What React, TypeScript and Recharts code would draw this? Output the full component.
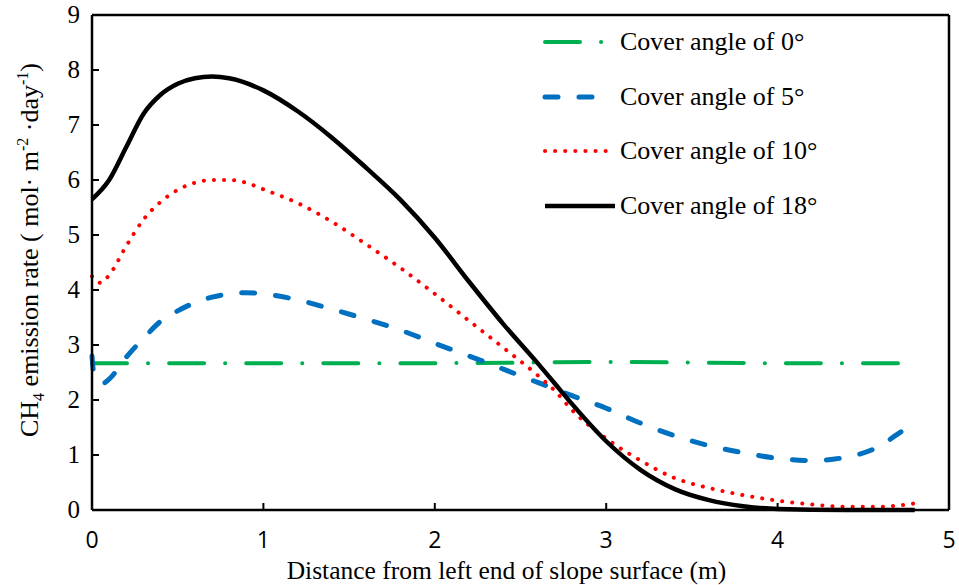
import { LineChart, Line, XAxis, YAxis, ReferenceLine } from 'recharts';

const xTicks = [0, 1, 2, 3, 4, 5];
const yTicks = [0, 1, 2, 3, 4, 5, 6, 7, 8, 9];

// cover angle 0°
const angle0 = [
  { x: 0, y: 2.67 }, { x: 1, y: 2.67 }, { x: 2, y: 2.67 }, { x: 3, y: 2.69 }, { x: 4, y: 2.67 }, { x: 4.8, y: 2.67 },
];

// cover angle 5°
const angle5X = [0, 0.01, 0.06, 0.1, 0.2, 0.3, 0.4, 0.5, 0.6, 0.7, 0.9, 1.0, 1.2, 1.4, 1.6, 1.8, 2.0, 2.2, 2.4, 2.6, 2.8, 3.0, 3.2, 3.4, 3.6, 3.8, 4.0, 4.2, 4.4, 4.6, 4.7, 4.8];
const angle5Y = [2.8, 2.5, 2.3, 2.38, 2.78, 3.12, 3.43, 3.62, 3.77, 3.87, 3.95, 3.93, 3.82, 3.65, 3.47, 3.27, 3.03, 2.8, 2.56, 2.32, 2.08, 1.85, 1.58, 1.35, 1.17, 1.04, 0.94, 0.9, 0.96, 1.17, 1.38, 1.58];

// cover angle 10°
const angle10X = [0, 0.05, 0.1, 0.2, 0.3, 0.4, 0.5, 0.6, 0.7, 0.8, 0.9, 1.0, 1.2, 1.4, 1.6, 1.8, 2.0, 2.2, 2.4, 2.6, 2.7, 2.8, 3.0, 3.2, 3.4, 3.6, 3.8, 4.0, 4.2, 4.4, 4.6, 4.7, 4.8];
const angle10Y = [4.25, 4.13, 4.27, 4.8, 5.28, 5.6, 5.82, 5.95, 6.0, 6.0, 5.95, 5.83, 5.58, 5.24, 4.83, 4.4, 3.93, 3.44, 2.95, 2.45, 2.17, 1.82, 1.3, 0.9, 0.58, 0.4, 0.27, 0.17, 0.1, 0.06, 0.06, 0.08, 0.12];

// cover angle 18°
const angle18X = [0, 0.1, 0.2, 0.3, 0.4, 0.5, 0.6, 0.7, 0.8, 1.0, 1.2, 1.4, 1.6, 1.8, 2.0, 2.2, 2.4, 2.6, 2.7, 2.8, 3.0, 3.2, 3.4, 3.6, 3.8, 4.0, 4.4, 4.8];
const angle18Y = [5.65, 6.0, 6.6, 7.2, 7.55, 7.75, 7.85, 7.88, 7.85, 7.63, 7.25, 6.77, 6.22, 5.64, 4.95, 4.15, 3.38, 2.67, 2.3, 1.93, 1.25, 0.73, 0.38, 0.18, 0.07, 0.02, 0, 0];

const zip = (xs: number[], ys: number[]) => xs.map((x, i) => ({ x, y: ys[i] }));

const series = [
  { name: 'Cover angle of 0°', data: angle0, stroke: '#00b050', width: 4, dash: '35 21 0.1 21', cap: 'round', sample: 64 },
  { name: 'Cover angle of 5°', data: zip(angle5X, angle5Y), stroke: '#0070c0', width: 5, dash: '13 21', cap: 'round', sample: 56 },
  { name: 'Cover angle of 10°', data: zip(angle10X, angle10Y), stroke: '#ff0000', width: 4, dash: '0.1 10', cap: 'round', sample: 66 },
  { name: 'Cover angle of 18°', data: zip(angle18X, angle18Y), stroke: '#000000', width: 4.5, dash: undefined, cap: 'butt', sample: 70 },
];

const serif = '"Liberation Serif", "Times New Roman", serif';

const YTick = ({ x, y, payload }: any) => (
  <g>
    <line x1={x} x2={x + 7} y1={y} y2={y} stroke="#000" strokeWidth={2} />
    <text x={x - 12} y={y} dy={8} textAnchor="end" fontFamily={serif} fontSize={25} fill="#000">
      {payload.value}
    </text>
  </g>
);

const XTick = ({ x, y, payload }: any) => (
  <g>
    <line x1={x} x2={x} y1={y} y2={y - 7} stroke="#000" strokeWidth={2} />
    <text x={x} y={y + 38} textAnchor="middle" fontFamily='"Liberation Sans Narrow", "Open Sans", sans-serif' fontSize={23} fill="#000">
      {payload.value}
    </text>
  </g>
);

const LegendBox = () => (
  <div style={{ position: 'absolute', left: 540, top: 15, fontFamily: serif, fontSize: 26, color: '#000' }}>
    {series.map((s) => (
      <div key={s.name} style={{ display: 'flex', alignItems: 'center', height: 54.5 }}>
        <svg width={80} height={10}>
          <line
            x1={5} x2={5 + s.sample} y1={5} y2={5}
            stroke={s.stroke} strokeWidth={s.width}
            strokeDasharray={s.dash} strokeLinecap={s.cap as any}
          />
        </svg>
        <span>{s.name}</span>
      </div>
    ))}
  </div>
);

const YLabel = () => (
  <text transform="translate(38,250) rotate(-90)" textAnchor="middle" fontFamily={serif} fontSize={26} fill="#000">
    CH<tspan fontSize={16} dy={6}>4</tspan>
    <tspan dy={-6}> emission rate ( mol· m</tspan>
    <tspan fontSize={16} dy={-10}>-2</tspan>
    <tspan dy={10}> ·day</tspan>
    <tspan fontSize={16} dy={-10}>-1</tspan>
    <tspan dy={10}>)</tspan>
  </text>
);

export default function App() {
  return (
    <div style={{ position: 'absolute', left: 0, top: 0, width: 959, height: 585, background: '#fff' }}>
      <LineChart width={959} height={585} margin={{ top: 15, right: 10, left: 0, bottom: 0 }}>
        <XAxis
          type="number" dataKey="x" domain={[0, 5]} ticks={xTicks}
          tickSize={0} tickMargin={0} tick={<XTick />}
          axisLine={{ stroke: '#000', strokeWidth: 2.5 }} height={75}
          allowDuplicatedCategory={false}
          label={{ value: 'Distance from left end of slope surface  (m)', position: 'insideBottom', offset: 6, fontFamily: serif, fontSize: 25.5, fill: '#000', dx: -14 }}
        />
        <YAxis
          type="number" dataKey="y" domain={[0, 9]} ticks={yTicks}
          tickSize={0} tickMargin={0} tick={<YTick />} width={92}
          axisLine={{ stroke: '#000', strokeWidth: 2.5 }}
          label={<YLabel />}
        />
        <ReferenceLine y={9} stroke="#000" strokeWidth={2.5} />
        <ReferenceLine x={5} stroke="#000" strokeWidth={2.5} />
        {series.map((s) => (
          <Line
            key={s.name} data={s.data} dataKey="y" name={s.name} type="monotone"
            stroke={s.stroke} strokeWidth={s.width} strokeDasharray={s.dash}
            strokeLinecap={s.cap as any} dot={false} activeDot={false} isAnimationActive={false}
          />
        ))}
      </LineChart>
      <LegendBox />
    </div>
  );
}
